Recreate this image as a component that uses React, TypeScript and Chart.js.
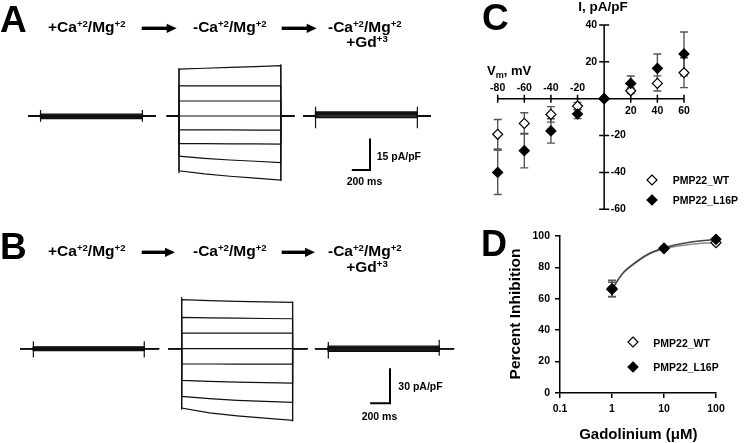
import React, { useEffect, useRef } from "react";
import { Chart, registerables } from "chart.js";

Chart.register(...registerables);

const FONT = '"Liberation Sans", Arial, Helvetica, sans-serif';
const TRACE = "#111111";
const ERR = "#555555";

// ---------------- Panels A / B : recording protocol (ms within one recording)
const pulseOnMs = 135;
const pulseOffMs = 1255;
const sweepEndMs = 1405;

// display-time start of each of the three recordings
const groupStartA = [311, 1834, 3336];
const groupStartB = [202, 1700, 3181];

// sample times within the pulse (ms after pulse onset)
const flatSampleMs = [0, 1120];
const stepSampleMs = [0, 280, 560, 840, 1120];

// Panel A currents (pA/pF)
const sweepsA_Ca = [[0.9, 0.9], [0.6, 0.6], [0.3, 0.3], [0, 0], [-0.3, -0.3], [-0.6, -0.6], [-0.9, -0.9], [-1.2, -1.2]];
const sweepsA_noCa = [
  [22.2, 22.6, 23.0, 23.4, 23.8],
  [14.3, 14.3, 14.3, 14.3, 14.3],
  [7.1, 7.1, 7.1, 7.1, 7.1],
  [0, 0, 0, 0, 0],
  [-6.6, -6.6, -6.6, -6.7, -6.7],
  [-13.1, -13.1, -13.2, -13.2, -13.3],
  [-19.0, -20.0, -20.8, -21.4, -22.0],
  [-25.9, -27.4, -28.5, -29.4, -30.3],
];
const sweepsA_Gd = [[2.0, 2.0], [1.6, 1.6], [1.2, 1.2], [0.8, 0.8], [0.4, 0.4], [0, 0], [-0.4, -0.4], [-0.8, -0.8]];
// capacitive transients [onHigh, onLow, offHigh, offLow]
const transientsA = [[2.8, -2.7, 2.8, -2.7], [22.6, -27.1, 24.5, -30.8], [4.4, -5.8, 4.4, -5.8]];

// Panel B currents (pA/pF)
const sweepsB_Ca = [[1.7, 1.7], [1.2, 1.2], [0.7, 0.7], [0.2, 0.2], [-0.2, -0.2], [-0.7, -0.7], [-1.2, -1.2], [-1.7, -1.7]];
const sweepsB_noCa = [
  [42.0, 41.2, 40.6, 40.1, 39.7],
  [26.8, 26.5, 26.2, 25.9, 25.7],
  [13.4, 13.4, 13.4, 13.4, 13.4],
  [0, 0, 0, 0, 0],
  [-13.1, -13.1, -13.2, -13.2, -13.2],
  [-27.2, -28.0, -28.6, -29.0, -29.4],
  [-40.9, -42.8, -44.2, -45.2, -46.0],
  [-50.8, -55.0, -57.5, -59.5, -61.4],
];
const sweepsB_Gd = [[2.3, 2.3], [1.6, 1.6], [1.0, 1.0], [0.3, 0.3], [-0.3, -0.3], [-1.0, -1.0], [-1.6, -1.6], [-2.3, -2.3]];
const transientsB = [[6.3, -7.5, 6.3, -7.5], [44.3, -52.4, 40.5, -62.3], [5.7, -8.6, 7.7, -6.0]];

// scale bars
const scaleBarA = { ms: 200, pApF: 15 };
const scaleBarB = { ms: 200, pApF: 30 };

// ---------------- Panel C : I-V relation
const cVm = [-80, -60, -40, -20, 0, 20, 40, 60];
const cWT = [-19.3, -13.4, -8.5, -4.0, 0, 4.3, 8.3, 14.1];
const cWTErr = [8.0, 5.8, 4.2, 2.0, 0, 1.5, 4.1, 8.1];
const cL16P = [-40.0, -28.2, -17.5, -8.3, 0, 8.3, 16.5, 24.3];
const cL16PErr = [12.0, 9.3, 6.6, 2.5, 0, 4.0, 7.8, 11.9];
const cXTicks = [-80, -60, -40, -20, 20, 40, 60];
const cYTicks = [-60, -40, -20, 20, 40];

// ---------------- Panel D : Gd inhibition
const dGd = [1, 10, 100];
const dWT = [66.5, 92.0, 95.7];
const dWTErr = [5.3, 1.2, 1.2];
const dL16P = [66.0, 92.3, 97.9];
const dL16PErr = [4.5, 1.0, 1.0];
const dFitGd = [1, 1.6, 3, 5.3, 10, 31, 100];
const dFitWT = [66.5, 76.0, 83.4, 88.6, 91.8, 94.6, 95.8];
const dFitL16P = [66.0, 76.2, 83.8, 89.0, 92.4, 96.0, 97.8];
const dXTicks = [0.1, 1, 10, 100];
const dYTicks = [0, 20, 40, 60, 80, 100];

// ---------------- helpers
type Pt = { x: number; y: number | null };

function sweepPoints(start: number, times: number[], vals: number[]): Pt[] {
  const pts: Pt[] = [{ x: start, y: 0 }, { x: start + pulseOnMs, y: 0 }];
  times.forEach((t, k) => pts.push({ x: start + pulseOnMs + t, y: vals[k] }));
  pts.push({ x: start + pulseOffMs, y: 0 }, { x: start + sweepEndMs, y: 0 });
  return pts;
}

function transientPoints(start: number, tr: number[]): Pt[] {
  const on = start + pulseOnMs;
  const off = start + pulseOffMs;
  return [
    { x: on, y: tr[0] },
    { x: on, y: tr[1] },
    { x: on, y: null },
    { x: off, y: tr[2] },
    { x: off, y: tr[3] },
  ];
}

function traceConfig(
  starts: number[],
  groups: { times: number[]; sweeps: number[][] }[],
  transients: number[][],
  bar: { ms: number; pApF: number },
  barCorner: { x: number; y: number },
  xMax: number,
  yMin: number,
  yMax: number
): any {
  const datasets: any[] = [];
  groups.forEach((g, gi) => {
    g.sweeps.forEach((vals) =>
      datasets.push({
        data: sweepPoints(starts[gi], g.times, vals),
        borderColor: TRACE,
        borderWidth: 1.2,
        pointRadius: 0,
        tension: 0,
      })
    );
    datasets.push({
      data: transientPoints(starts[gi], transients[gi]),
      borderColor: TRACE,
      borderWidth: 1.2,
      pointRadius: 0,
      spanGaps: false,
    });
  });
  datasets.push({
    data: [
      { x: barCorner.x - bar.ms, y: barCorner.y },
      { x: barCorner.x, y: barCorner.y },
      { x: barCorner.x, y: barCorner.y + bar.pApF },
    ],
    borderColor: "#000",
    borderWidth: 2,
    pointRadius: 0,
  });
  return {
    type: "line",
    data: { datasets },
    options: {
      animation: false,
      responsive: false,
      events: [],
      layout: { padding: 0 },
      plugins: { legend: { display: false }, tooltip: { enabled: false } },
      scales: {
        x: { type: "linear", display: false, min: 0, max: xMax },
        y: { type: "linear", display: false, min: yMin, max: yMax },
      },
    },
  };
}

const errorBarPlugin = {
  id: "errorBars",
  beforeDatasetsDraw(chart: any) {
    const ctx = chart.ctx;
    const ys = chart.scales.y;
    chart.data.datasets.forEach((ds: any, i: number) => {
      if (!ds.errors) return;
      const meta = chart.getDatasetMeta(i);
      ctx.save();
      ctx.strokeStyle = ERR;
      ctx.lineWidth = 1.4;
      meta.data.forEach((el: any, k: number) => {
        const e = ds.errors[k];
        if (!e) return;
        const v = ds.data[k].y;
        const x = el.x;
        const yt = ys.getPixelForValue(v + e);
        const yb = ys.getPixelForValue(v - e);
        ctx.beginPath();
        ctx.moveTo(x, yt);
        ctx.lineTo(x, yb);
        ctx.moveTo(x - 4, yt);
        ctx.lineTo(x + 4, yt);
        ctx.moveTo(x - 4, yb);
        ctx.lineTo(x + 4, yb);
        ctx.stroke();
      });
      ctx.restore();
    });
  },
};

const crossAxesPlugin = {
  id: "crossAxes",
  beforeDatasetsDraw(chart: any) {
    const ctx = chart.ctx;
    const xs = chart.scales.x;
    const ys = chart.scales.y;
    const x0 = xs.getPixelForValue(0);
    const y0 = ys.getPixelForValue(0);
    ctx.save();
    ctx.strokeStyle = "#000";
    ctx.lineWidth = 1.5;
    ctx.beginPath();
    ctx.moveTo(xs.getPixelForValue(xs.min), y0);
    ctx.lineTo(xs.getPixelForValue(xs.max), y0);
    ctx.moveTo(x0, ys.getPixelForValue(ys.min));
    ctx.lineTo(x0, ys.getPixelForValue(ys.max));
    cXTicks.forEach((v) => {
      const px = xs.getPixelForValue(v);
      ctx.moveTo(px, y0 - 4);
      ctx.lineTo(px, y0 + 4);
    });
    cYTicks.forEach((v) => {
      const py = ys.getPixelForValue(v);
      ctx.moveTo(x0 - 5, py);
      ctx.lineTo(x0 + 5, py);
    });
    ctx.stroke();
    ctx.fillStyle = "#000";
    ctx.font = `bold 10.5px ${FONT}`;
    ctx.textBaseline = "middle";
    ctx.textAlign = "center";
    cXTicks.forEach((v) => {
      const px = xs.getPixelForValue(v);
      ctx.fillText(String(v), px, v < 0 ? y0 - 11 : y0 + 12);
    });
    cYTicks.forEach((v) => {
      const py = ys.getPixelForValue(v);
      if (v > 0) {
        ctx.textAlign = "right";
        ctx.fillText(String(v), x0 - 7, py);
      } else {
        ctx.textAlign = "left";
        ctx.fillText(String(v), x0 + 6.5, py);
      }
    });
    ctx.restore();
  },
};

function cConfig(): any {
  const pts = (ys: number[]) => cVm.map((x, i) => ({ x, y: ys[i] }));
  return {
    type: "scatter",
    data: {
      datasets: [
        {
          label: "PMP22_WT",
          data: pts(cWT),
          errors: cWTErr,
          pointStyle: "rectRot",
          pointRadius: 5,
          backgroundColor: "#fff",
          borderColor: "#000",
          borderWidth: 1.2,
          order: 2,
          clip: false,
        },
        {
          label: "PMP22_L16P",
          data: pts(cL16P),
          errors: cL16PErr,
          pointStyle: "rectRot",
          pointRadius: 5,
          backgroundColor: "#000",
          borderColor: "#000",
          borderWidth: 1.2,
          order: 1,
          clip: false,
        },
      ],
    },
    options: {
      animation: false,
      responsive: false,
      events: [],
      layout: { padding: { left: 17.7, right: 61, top: 25, bottom: 30.7 } },
      plugins: { legend: { display: false }, tooltip: { enabled: false } },
      scales: {
        x: { type: "linear", display: false, min: -80, max: 60 },
        y: { type: "linear", display: false, min: -60, max: 40 },
      },
    },
    plugins: [crossAxesPlugin, errorBarPlugin],
  };
}

function dConfig(): any {
  const pts = (xs: number[], ys: number[]) => xs.map((x, i) => ({ x, y: ys[i] }));
  const tickFont = { family: FONT, size: 10.5, weight: "bold" };
  return {
    type: "scatter",
    data: {
      datasets: [
        {
          label: "fit WT",
          data: pts(dFitGd, dFitWT),
          showLine: true,
          cubicInterpolationMode: "monotone",
          borderColor: "#8a8a8a",
          borderWidth: 1.5,
          pointRadius: 0,
          order: 4,
        },
        {
          label: "fit L16P",
          data: pts(dFitGd, dFitL16P),
          showLine: true,
          cubicInterpolationMode: "monotone",
          borderColor: "#444",
          borderWidth: 1.5,
          pointRadius: 0,
          order: 3,
        },
        {
          label: "PMP22_WT",
          data: pts(dGd, dWT),
          errors: dWTErr,
          pointStyle: "rectRot",
          pointRadius: 5,
          backgroundColor: "#fff",
          borderColor: "#000",
          borderWidth: 1.2,
          order: 2,
          clip: false,
        },
        {
          label: "PMP22_L16P",
          data: pts(dGd, dL16P),
          errors: dL16PErr,
          pointStyle: "rectRot",
          pointRadius: 5,
          backgroundColor: "#000",
          borderColor: "#000",
          borderWidth: 1.2,
          order: 1,
          clip: false,
        },
      ],
    },
    options: {
      animation: false,
      responsive: false,
      events: [],
      layout: { padding: { left: 50, right: 29, top: 16, bottom: 24 } },
      plugins: { legend: { display: false }, tooltip: { enabled: false } },
      scales: {
        x: {
          type: "logarithmic",
          position: "bottom",
          min: 0.1,
          max: 100,
          afterBuildTicks: (s: any) => {
            s.ticks = dXTicks.map((v) => ({ value: v }));
          },
          afterFit: (s: any) => {
            s.height = 26;
          },
          grid: { display: true, drawOnChartArea: false, drawTicks: true, tickLength: 5, color: "#000", lineWidth: 1.5 },
          border: { display: true, color: "#000", width: 1.5 },
          ticks: {
            color: "#000",
            font: tickFont,
            padding: 5,
            maxRotation: 0,
            autoSkip: false,
            callback: (v: any) => String(v),
          },
        },
        y: {
          type: "linear",
          position: "left",
          min: 0,
          max: 100,
          afterBuildTicks: (s: any) => {
            s.ticks = dYTicks.map((v) => ({ value: v }));
          },
          afterFit: (s: any) => {
            s.width = 30;
          },
          grid: { display: true, drawOnChartArea: false, drawTicks: true, tickLength: 5, color: "#000", lineWidth: 1.5 },
          border: { display: true, color: "#000", width: 1.5 },
          ticks: { color: "#000", font: tickFont, padding: 5, autoSkip: false, callback: (v: any) => String(v) },
        },
      },
    },
    plugins: [errorBarPlugin],
  };
}

// ---------------- React pieces
function ChartCanvas(props: { left: number; top: number; width: number; height: number; make: () => any }) {
  const ref = useRef<HTMLCanvasElement | null>(null);
  useEffect(() => {
    if (!ref.current) return;
    const chart = new Chart(ref.current, props.make());
    return () => chart.destroy();
  }, []);
  return (
    <canvas
      ref={ref}
      width={props.width}
      height={props.height}
      style={{ position: "absolute", left: props.left, top: props.top, width: props.width, height: props.height }}
    />
  );
}

function Txt(props: { x: number; y: number; size: number; anchor?: string; children: any }) {
  const { x, y, size, anchor = "left" } = props;
  const transform = anchor === "center" ? "translateX(-50%)" : anchor === "right" ? "translateX(-100%)" : undefined;
  return (
    <div
      style={{
        position: "absolute",
        left: x,
        top: y - 0.8465 * size,
        fontSize: size,
        lineHeight: 1,
        fontWeight: 700,
        whiteSpace: "nowrap",
        transform,
        color: "#000",
      }}
    >
      {props.children}
    </div>
  );
}

const supStyle: any = { fontSize: "0.62em", position: "relative", top: "-0.5em", verticalAlign: "baseline", lineHeight: 0 };
const subStyle: any = { fontSize: "0.7em", position: "relative", top: "0.3em", verticalAlign: "baseline", lineHeight: 0 };

function CaMg(props: { sign: string }) {
  return (
    <>
      {props.sign}Ca<span style={supStyle}>+2</span>/Mg<span style={supStyle}>+2</span>
    </>
  );
}

function Diamond(props: { x: number; y: number; filled: boolean }) {
  const r = 5;
  return (
    <svg
      width={14}
      height={14}
      style={{ position: "absolute", left: props.x - 7, top: props.y - 7, overflow: "visible" }}
    >
      <polygon
        points={`7,${7 - r} ${7 + r},7 7,${7 + r} ${7 - r},7`}
        fill={props.filled ? "#000" : "#fff"}
        stroke="#000"
        strokeWidth={1.2}
      />
    </svg>
  );
}

function Arrow(props: { x1: number; x2: number; y: number }) {
  const { x1, x2, y } = props;
  return (
    <g>
      <rect x={x1} y={y - 1.7} width={x2 - x1 - 9} height={3.4} fill="#000" />
      <polygon points={`${x2 - 10},${y - 4.6} ${x2},${y} ${x2 - 10},${y + 4.6}`} fill="#000" />
    </g>
  );
}

function Header(props: { base: number; gdBase: number }) {
  const b = props.base;
  return (
    <>
      <Txt x={48} y={b} size={15.5}>
        <CaMg sign="+" />
      </Txt>
      <Txt x={193} y={b} size={15.5}>
        <CaMg sign="-" />
      </Txt>
      <Txt x={328} y={b} size={15.5}>
        <CaMg sign="-" />
      </Txt>
      <Txt x={367} y={props.gdBase} size={15.5} anchor="center">
        +Gd<span style={supStyle}>+3</span>
      </Txt>
    </>
  );
}

export default function App() {
  const groupsA = [
    { times: flatSampleMs, sweeps: sweepsA_Ca },
    { times: stepSampleMs, sweeps: sweepsA_noCa },
    { times: flatSampleMs, sweeps: sweepsA_Gd },
  ];
  const groupsB = [
    { times: flatSampleMs, sweeps: sweepsB_Ca },
    { times: stepSampleMs, sweeps: sweepsB_noCa },
    { times: flatSampleMs, sweeps: sweepsB_Gd },
  ];
  return (
    <div
      style={{
        position: "absolute",
        left: 0,
        top: 0,
        width: 745,
        height: 443,
        overflow: "hidden",
        background: "#fff",
        fontFamily: FONT,
      }}
    >
      <ChartCanvas
        left={0}
        top={0}
        width={480}
        height={220}
        make={() => traceConfig(groupStartA, groupsA, transientsA, scaleBarA, { x: 4070, y: -25.6 }, 5280, -49.2, 54.9)}
      />
      <ChartCanvas
        left={0}
        top={220}
        width={480}
        height={223}
        make={() => traceConfig(groupStartB, groupsB, transientsB, scaleBarB, { x: 3939, y: -46.8 }, 4848, -80.8, 110.3)}
      />
      <ChartCanvas left={480} top={0} width={265} height={240} make={cConfig} />
      <ChartCanvas left={480} top={220} width={265} height={223} make={dConfig} />

      <svg width={745} height={443} style={{ position: "absolute", left: 0, top: 0, pointerEvents: "none" }}>
        <Arrow x1={141.7} x2={176.7} y={28.3} />
        <Arrow x1={281.7} x2={316.7} y={28.3} />
        <Arrow x1={141.7} x2={175} y={252.3} />
        <Arrow x1={281.7} x2={315} y={252.3} />
      </svg>

      {/* Panel A */}
      <Txt x={0} y={32} size={37}>A</Txt>
      <Header base={31.7} gdBase={47} />
      <Txt x={376.7} y={159.5} size={10.5}>15 pA/pF</Txt>
      <Txt x={346.7} y={185} size={10.5}>200 ms</Txt>

      {/* Panel B */}
      <Txt x={0} y={259} size={37}>B</Txt>
      <Header base={255.7} gdBase={272} />
      <Txt x={398.3} y={389.5} size={10.5}>30 pA/pF</Txt>
      <Txt x={361.7} y={420} size={10.5}>200 ms</Txt>

      {/* Panel C */}
      <Txt x={482} y={30} size={37}>C</Txt>
      <Txt x={603} y={11} size={13.5} anchor="center">I, pA/pF</Txt>
      <Txt x={487} y={75} size={13}>
        V<span style={subStyle}>m</span>, mV
      </Txt>
      <Diamond x={651.7} y={180} filled={false} />
      <Diamond x={651.7} y={200} filled={true} />
      <Txt x={672.7} y={184} size={10.5}>PMP22_WT</Txt>
      <Txt x={672.7} y={204} size={10.5}>PMP22_L16P</Txt>

      {/* Panel D */}
      <Txt x={481} y={256.7} size={36}>D</Txt>
      <div
        style={{
          position: "absolute",
          left: 515,
          top: 314,
          fontSize: 15.5,
          lineHeight: 1,
          fontWeight: 700,
          whiteSpace: "nowrap",
          transform: "translate(-50%, -50%) rotate(-90deg)",
        }}
      >
        Percent Inhibition
      </div>
      <Txt x={638.3} y={438.5} size={15} anchor="center">Gadolinium (μM)</Txt>
      <Diamond x={633.3} y={342.3} filled={false} />
      <Diamond x={633.3} y={366.7} filled={true} />
      <Txt x={653.3} y={346.7} size={10.5}>PMP22_WT</Txt>
      <Txt x={653.3} y={370.7} size={10.5}>PMP22_L16P</Txt>
    </div>
  );
}
